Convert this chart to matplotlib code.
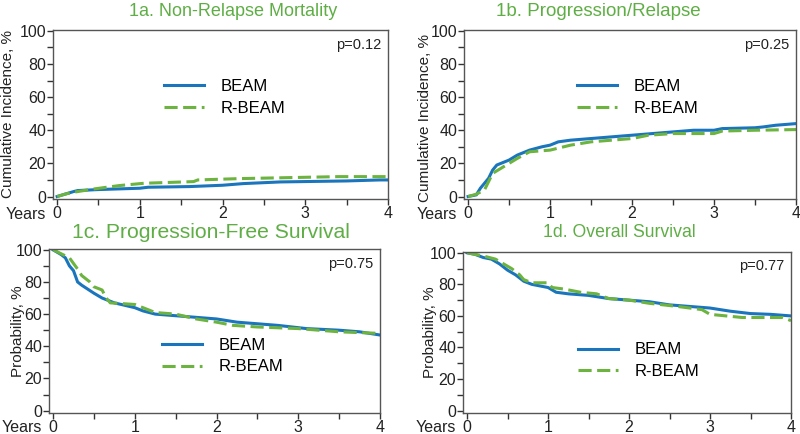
import matplotlib
matplotlib.use('Agg')
import matplotlib.pyplot as plt
from matplotlib.ticker import MultipleLocator

plt.rcParams['font.family'] = ['Liberation Sans', 'DejaVu Sans']

BLUE = '#1b75bc'
GREEN = '#6cb33f'
TITLE_GREEN = '#5fae45'
DARK = '#333333'

# ── Data ─────────────────────────────────────────────────────────────
nrm_t_beam = [0, 0.1, 0.2, 0.25, 0.5, 1.0, 1.1, 1.6, 2.0, 2.25, 2.7, 3.5, 3.9, 4.0]
nrm_beam = [0, 1.5, 3.0, 3.6, 4.2, 5.0, 5.6, 6.0, 6.8, 7.8, 8.8, 9.4, 10.0, 10.0]
nrm_t_rbeam = [0, 0.1, 0.2, 0.45, 0.75, 1.05, 1.65, 1.7, 2.2, 3.4, 4.0]
nrm_rbeam = [0, 1.5, 2.6, 4.6, 6.6, 8.0, 9.0, 10.0, 10.8, 12.0, 12.0]

rel_t_beam = [0, 0.1, 0.15, 0.25, 0.3, 0.35, 0.5, 0.6, 0.75, 0.9, 1.0, 1.1,
              1.25, 1.5, 1.75, 2.0, 2.25, 2.5, 2.75, 3.0, 3.1, 3.5, 3.6, 3.75, 4.0]
rel_beam = [0, 1, 5, 11, 16, 19, 22, 25, 28, 30, 31, 33,
            34, 35, 36, 37, 38, 39, 40, 40, 41, 41.5, 42, 43, 44]
rel_t_rbeam = [0, 0.1, 0.2, 0.3, 0.4, 0.5, 0.6, 0.75, 1.0, 1.25, 1.5, 1.75,
               2.0, 2.2, 2.5, 3.0, 3.1, 3.5, 4.0]
rel_rbeam = [0, 1.4, 4, 14, 17, 20, 23, 27, 28, 31, 33, 34,
             35, 37, 38, 38, 39.5, 40, 40.4]

pfs_t_beam = [0, 0.1, 0.15, 0.2, 0.25, 0.3, 0.35, 0.5, 0.6, 0.75, 1.0, 1.1,
              1.25, 1.5, 1.75, 2.0, 2.25, 2.5, 2.75, 3.1, 3.5, 3.75, 4.0]
pfs_beam = [100, 97, 95, 90, 87, 80, 78, 73, 70, 67, 64, 62,
            60, 59, 58, 57, 55, 54, 53, 51, 50, 49, 47]
pfs_t_rbeam = [0, 0.2, 0.3, 0.35, 0.45, 0.5, 0.6, 0.65, 0.7, 1.0, 1.1, 1.25,
               1.5, 1.75, 2.0, 2.2, 2.5, 3.0, 3.25, 3.5, 4.0]
pfs_rbeam = [100, 95, 88, 84, 80, 77, 75, 70, 67, 66, 64, 61,
             60, 57, 55, 53, 52, 51, 50, 49, 48]

os_t_beam = [0, 0.1, 0.2, 0.3, 0.4, 0.5, 0.6, 0.7, 0.8, 1.0, 1.1, 1.25,
             1.5, 1.75, 2.0, 2.25, 2.5, 2.75, 3.0, 3.25, 3.5, 3.75, 4.0]
os_beam = [100, 99, 97, 96, 93, 89, 86, 82, 80, 78, 75, 74,
           73, 71, 70, 69, 67, 66, 65, 63, 61.5, 61, 60]
os_t_rbeam = [0, 0.2, 0.35, 0.45, 0.55, 0.65, 0.7, 0.8, 1.0, 1.05, 1.2, 1.4,
              1.6, 1.75, 2.0, 2.25, 2.6, 2.9, 3.0, 3.4, 3.9, 4.0]
os_rbeam = [100, 98, 96, 93, 90, 86, 83, 81, 81, 78, 77, 75,
            74, 71, 70, 68, 66, 64, 61, 59, 59, 57]

titles = ['1a. Non-Relapse Mortality', '1b. Progression/Relapse',
          '1c. Progression-Free Survival', '1d. Overall Survival']
ylabels = ['Cumulative Incidence, %', 'Cumulative Incidence, %',
           'Probability, %', 'Probability, %']
pvalues = ['p=0.12', 'p=0.25', 'p=0.75', 'p=0.77']
series = [
    (nrm_t_beam, nrm_beam, nrm_t_rbeam, nrm_rbeam),
    (rel_t_beam, rel_beam, rel_t_rbeam, rel_rbeam),
    (pfs_t_beam, pfs_beam, pfs_t_rbeam, pfs_rbeam),
    (os_t_beam, os_beam, os_t_rbeam, os_rbeam),
]

# ── Layout (pixel boxes: left, top, right, bottom) ───────────────────
W, H = 800, 434
boxes = [(53, 30, 388, 199), (464, 30, 796, 199),
         (49, 249, 380, 413), (463, 252, 791, 413)]
title_fs = [13, 13.5, 15.2, 12.7]
title_xy = [(233, 12), (598, 12), (211, 232), (619, 233)]
legend_anchor = [(0.31, 0.75), (0.32, 0.75), (0.32, 0.50), (0.33, 0.48)]
ylabel_x = [8, 425, 18, 430]
ylabel_yoff = [0, 3, 0, 0]

fig = plt.figure(figsize=(8, 4.34), dpi=100)
fig.patch.set_facecolor('white')

for i in range(4):
    l, t, r, b = boxes[i]
    ax = fig.add_axes([l / W, 1 - b / H, (r - l) / W, (b - t) / H])
    tb, yb, tr, yr = series[i]
    ax.plot(tb, yb, color=BLUE, lw=2.2, label='BEAM',
            solid_joinstyle='miter')
    ax.plot(tr, yr, color=GREEN, lw=2.2, ls=(0, (4.3, 1.8)),
            label='R-BEAM')
    ax.set_xlim(-0.05, 4.0)
    ax.set_ylim(-1.5, 100.5)
    ax.xaxis.set_major_locator(MultipleLocator(1))
    ax.xaxis.set_minor_locator(MultipleLocator(0.5))
    ax.yaxis.set_major_locator(MultipleLocator(20))
    ax.yaxis.set_minor_locator(MultipleLocator(10))
    ax.tick_params(which='both', direction='out', length=4, width=1,
                   color=DARK, labelsize=11.5, labelcolor='#222222', pad=1)
    for s in ax.spines.values():
        s.set_color('#555555')
        s.set_linewidth(1)
    ax.text(0.98, 0.91, pvalues[i], transform=ax.transAxes, ha='right',
            va='center', fontsize=10.5, color='#222222')
    ax.legend(loc='upper left', bbox_to_anchor=legend_anchor[i],
              frameon=False, fontsize=12, handlelength=2.4,
              handletextpad=1.0, labelspacing=0.4, borderaxespad=0)
    ax.text(-0.02, -0.09, 'Years', transform=ax.transAxes, ha='right',
            va='center', fontsize=11.5, color='#222222')
    fig.text(title_xy[i][0] / W, 1 - title_xy[i][1] / H, titles[i],
             ha='center', va='center', color=TITLE_GREEN,
             fontsize=title_fs[i])
    fig.text(ylabel_x[i] / W, 1 - ((t + b) / 2 + ylabel_yoff[i]) / H,
             ylabels[i], rotation=90, ha='center', va='center',
             fontsize=11, color='#222222')

fig.savefig('out.png', dpi=100, facecolor='white')
